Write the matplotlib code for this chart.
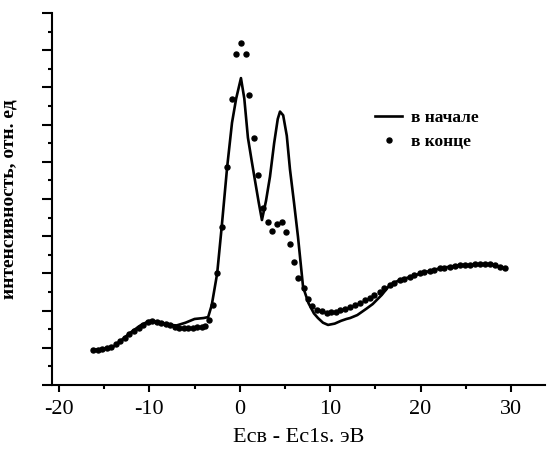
import matplotlib
matplotlib.use('Agg')
import matplotlib.pyplot as plt
from matplotlib.ticker import MultipleLocator, NullFormatter

plt.rcParams['font.family'] = ['Liberation Serif', 'DejaVu Serif']
plt.rcParams['axes.unicode_minus'] = False

# "в начале" (solid line)
line_x = [-16.2, -15.0, -14.0, -13.0, -12.0, -11.0, -10.0, -9.0, -8.0, -7.0, -6.0,
          -5.0, -4.0, -3.5, -3.1, -2.5, -2.0, -1.4, -0.86, -0.4, 0.13, 0.5, 0.9,
          1.3, 1.68, 2.1, 2.45, 2.9, 3.34, 3.8, 4.2, 4.45, 4.8, 5.2, 5.55, 6.0,
          6.44, 7.0, 7.6, 8.2, 8.65, 9.2, 9.76, 10.5, 11.2, 11.8, 12.2, 13.0,
          14.0, 14.7, 15.7, 16.6, 17.7, 18.8, 20.0, 21.0, 22.1, 23.2, 24.4,
          25.5, 26.6, 27.7, 28.8, 29.3]
line_y = [1.9, 1.95, 2.05, 2.45, 2.85, 3.2, 3.45, 3.4, 3.25, 3.2, 3.35,
          3.55, 3.6, 3.65, 4.3, 6.0, 8.5, 11.7, 14.1, 15.4, 16.5, 15.4, 13.3,
          12.1, 11.0, 9.8, 8.87, 9.9, 11.2, 13.0, 14.3, 14.7, 14.5, 13.4, 11.6, 9.8,
          7.96, 5.27, 4.4, 3.85, 3.6, 3.35, 3.23, 3.3, 3.45, 3.55, 3.6, 3.76,
          4.1, 4.35, 4.84, 5.38, 5.65, 5.8, 6.0, 6.13, 6.27, 6.36, 6.45,
          6.45, 6.5, 6.5, 6.36, 6.27]

# "в конце" (dots)
dot_x = [-16.2, -15.7, -15.2, -14.7, -14.2, -13.7, -13.2, -12.7, -12.2, -11.7,
         -11.2, -10.7, -10.2, -9.7, -9.2, -8.7, -8.2, -7.7, -7.2, -6.7, -6.2,
         -5.7, -5.2, -4.7, -4.2, -3.8, -3.4, -2.97, -2.5, -1.97, -1.4, -0.86,
         -0.42, 0.13, 0.69, 1.0, 1.57, 2.0, 2.57, 3.1, 3.56, 4.1, 4.67, 5.1,
         5.55, 6.0, 6.44, 7.1, 7.6, 8.0, 8.5, 9.1, 9.6, 10.1, 10.6, 11.1, 11.6,
         12.2, 12.7, 13.3, 13.8, 14.4, 14.9, 15.5, 16.0, 16.6, 17.1, 17.7,
         18.2, 18.8, 19.3, 19.9, 20.4, 21.0, 21.5, 22.1, 22.6, 23.2, 23.8,
         24.4, 24.9, 25.5, 26.0, 26.6, 27.1, 27.7, 28.2, 28.8, 29.3]
dot_y = [1.9, 1.9, 1.95, 1.98, 2.05, 2.2, 2.35, 2.55, 2.72, 2.9,
         3.05, 3.2, 3.4, 3.45, 3.4, 3.35, 3.3, 3.2, 3.1, 3.05, 3.05,
         3.05, 3.05, 3.1, 3.1, 3.15, 3.5, 4.3, 6.0, 8.5, 11.7, 15.4,
         17.8, 18.4, 17.8, 15.6, 13.3, 11.3, 9.5, 8.76, 8.3, 8.66, 8.76, 8.2,
         7.6, 6.6, 5.75, 5.2, 4.6, 4.25, 4.05, 4.0, 3.87, 3.9, 3.95, 4.03, 4.1,
         4.2, 4.3, 4.4, 4.55, 4.7, 4.85, 5.0, 5.2, 5.38, 5.5, 5.65,
         5.72, 5.8, 5.9, 6.0, 6.07, 6.13, 6.2, 6.27, 6.3, 6.36, 6.4,
         6.45, 6.45, 6.45, 6.48, 6.5, 6.48, 6.5, 6.45, 6.36, 6.27]

fig = plt.figure(figsize=(5.49, 4.5), dpi=100)
ax = fig.add_axes([52 / 549, 1 - 385 / 450, (545 - 52) / 549, (385 - 13) / 450])

ax.plot(line_x, line_y, color='black', lw=1.9, label='в начале')
ax.plot(dot_x, dot_y, 'o', color='black', ms=3.6, label='в конце')

ax.set_xlim(-20.77, 33.76)
ax.set_ylim(0, 20)

for s in ['top', 'right']:
    ax.spines[s].set_visible(False)
for s in ['left', 'bottom']:
    ax.spines[s].set_linewidth(1.5)

ax.xaxis.set_major_locator(MultipleLocator(10))
ax.xaxis.set_minor_locator(MultipleLocator(5))
ax.yaxis.set_major_locator(MultipleLocator(2))
ax.yaxis.set_minor_locator(MultipleLocator(1))
ax.yaxis.set_major_formatter(NullFormatter())
ax.tick_params(axis='both', which='major', direction='out', width=1.5, length=5)
ax.tick_params(axis='both', which='minor', direction='out', width=1.5, length=3)
ax.tick_params(axis='y', which='major', length=7)
ax.tick_params(axis='x', labelsize=16, pad=6)

ax.set_xlabel('Есв - Ес1s. эВ', fontsize=16, labelpad=6)
ax.set_ylabel('интенсивность, отн. ед', fontsize=14, fontweight='bold', labelpad=14)

ax.legend(loc='center left', bbox_to_anchor=(366 / 549, 1 - 130 / 450),
          bbox_transform=fig.transFigure, frameon=False, borderpad=0,
          handlelength=1.6, handletextpad=0.5, labelspacing=0.45,
          prop={'family': 'Liberation Serif', 'weight': 'bold', 'size': 12.5})

fig.savefig('out.png', dpi=100)
